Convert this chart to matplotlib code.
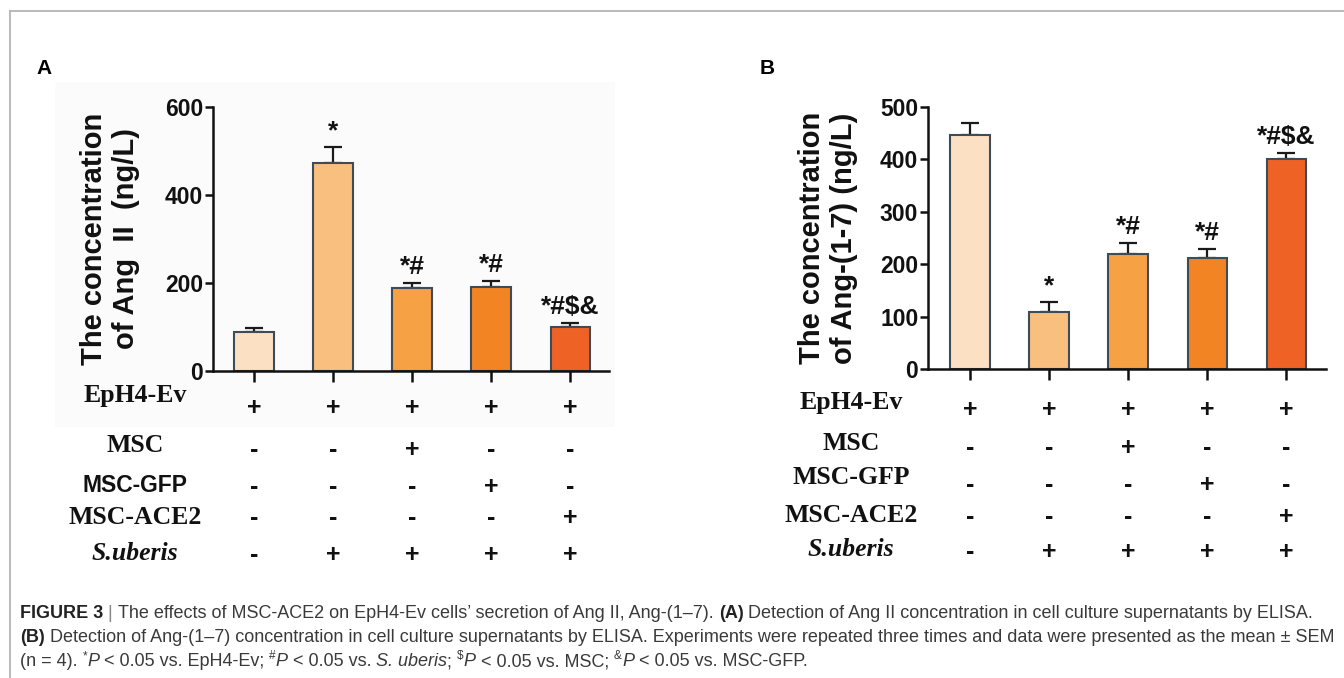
import matplotlib
matplotlib.use("Agg")
import matplotlib.pyplot as plt
import matplotlib.transforms as mtrans
from matplotlib import font_manager as fm
from matplotlib.patches import Rectangle
from matplotlib.lines import Line2D

# ---------------- data ----------------
groups = ["EpH4-Ev", "MSC", "MSC-GFP", "MSC-ACE2", "S.uberis"]
design = {
    "EpH4-Ev":  ["+", "+", "+", "+", "+"],
    "MSC":      ["-", "-", "+", "-", "-"],
    "MSC-GFP":  ["-", "-", "-", "+", "-"],
    "MSC-ACE2": ["-", "-", "-", "-", "+"],
    "S.uberis": ["-", "+", "+", "+", "+"],
}
angII_mean = [88, 473, 188, 192, 101]
angII_sem = [9, 36, 12, 12, 7]
ang17_mean = [446, 108, 220, 212, 400]
ang17_sem = [24, 19, 20, 17, 12]
sig_A = ["", "*", "*#", "*#", "*#$&"]
sig_B = ["", "*", "*#", "*#", "*#$&"]
yticks_A = [0, 200, 400, 600]
yticks_B = [0, 100, 200, 300, 400, 500]
bar_colors = ["#FCE0C4", "#F9BF7F", "#F7A145", "#F38424", "#EF6226"]

# ---------------- fonts ----------------
names = {f.name for f in fm.fontManager.ttflist}
NARROW = "Liberation Sans Narrow" if "Liberation Sans Narrow" in names else "Liberation Sans"
SANS = "Liberation Sans"
SERIF = "Liberation Serif"

W, H = 1344, 678
fig = plt.figure(figsize=(W / 100, H / 100), dpi=100)
fig.patch.set_facecolor("white")


def fx(px):
    return px / W


def fy(py):
    return 1 - py / H


# frame lines
fig.add_artist(Line2D([fx(9.5), 1.0], [fy(10.5), fy(10.5)], color="#b4b4b4", lw=1.3))
fig.add_artist(Line2D([fx(9.5), fx(9.5)], [fy(10.5), 0.0], color="#b4b4b4", lw=1.3))
# faint background of panel A image
fig.add_artist(Rectangle((fx(55), fy(427)), fx(615) - fx(55), fy(82) - fy(427),
                         transform=fig.transFigure, facecolor="#fbfbfb", edgecolor="none", zorder=0))


def make_panel(box, means, sems, sigs, yticks, ylim, xlim, ylabel, label_x, letter, letter_xy,
               row_label_x, row_label_y, row_sign_y, sans_rows):
    left, bottom, right, top = box
    ax = fig.add_axes([fx(left), fy(bottom), fx(right) - fx(left), fy(top) - fy(bottom)])
    ax.patch.set_alpha(0)
    x = list(range(len(means)))
    ax.errorbar(x, means, yerr=[[0] * len(sems), sems], fmt="none", ecolor="#1a1a1a",
                elinewidth=1.6, capsize=6.8, capthick=1.6, zorder=1)
    ax.bar(x, means, width=0.5, color=bar_colors, edgecolor="#3f4b57", linewidth=1.5, zorder=2)
    for xi, m, s, t in zip(x, means, sems, sigs):
        if t:
            ax.annotate(t, (xi, m + s), xytext=(0, 3), textcoords="offset points",
                        ha="center", va="bottom", fontsize=19, fontweight="bold",
                        family=NARROW, color="#111111")
    ax.set_xlim(*xlim)
    ax.set_ylim(*ylim)
    ax.set_yticks(yticks)
    ax.set_yticklabels([str(v) for v in yticks], fontsize=16.5, fontweight="bold", family=NARROW)
    ax.set_xticks(x)
    ax.set_xticklabels([""] * len(x))
    for sp in ["top", "right"]:
        ax.spines[sp].set_visible(False)
    for sp in ["left", "bottom"]:
        ax.spines[sp].set_linewidth(1.8)
        ax.spines[sp].set_color("#111111")
    ax.tick_params(axis="y", length=5.5, width=1.8, pad=1.5, colors="#111111")
    ax.tick_params(axis="x", length=8, width=1.8, colors="#111111")
    # y label
    fig.text(fx(label_x), fy((top + bottom) / 2), ylabel, rotation=90, ha="center", va="center",
             multialignment="center", fontsize=21, fontweight="bold", family=SANS,
             linespacing=1.2, color="#111111")
    # panel letter
    fig.text(fx(letter_xy[0]), fy(letter_xy[1]), letter, ha="left", va="center",
             fontsize=15, fontweight="bold", family=SANS)
    # design table
    blend = mtrans.blended_transform_factory(ax.transData, fig.transFigure)
    for name, ly, sy in zip(groups, row_label_y, row_sign_y):
        style = "italic" if name == "S.uberis" else "normal"
        fam = SANS if name in sans_rows else SERIF
        fs = 16.5 if name in sans_rows else 18.5
        fig.text(fx(row_label_x), fy(ly), name, ha="center", va="center", fontsize=fs,
                 fontweight="bold", fontstyle=style, family=fam, color="#111111")
        for xi, s in enumerate(design[name]):
            ax.text(xi, fy(sy), s, transform=blend, ha="center", va="center",
                    fontsize=18, fontweight="bold", family=SANS, color="#111111")
    return ax


make_panel((213, 371, 609, 107), angII_mean, angII_sem, sig_A, yticks_A, (0, 600), (-0.52, 4.49),
           "The concentration\nof Ang  II  (ng/L)", 110, "A", (36, 69),
           135, [395, 445, 485, 517, 553], [408, 450, 487, 518, 555], ["MSC-GFP"])
make_panel((928, 369, 1326, 107), ang17_mean, ang17_sem, sig_B, yticks_B, (0, 500), (-0.53, 4.5),
           "The concentration\nof Ang-(1-7) (ng/L)", 828, "B", (760, 69),
           851, [403, 443, 478, 515, 550], [410, 448, 485, 517, 552], [])

# ---------------- caption ----------------
CAP = "#3a3a3a"
renderer = fig.canvas.get_renderer()

line1 = [("FIGURE 3", "bold", "normal", False, "#222222"),
         (" | ", "normal", "normal", False, "#888888"),
         ("The effects of MSC-ACE2 on EpH4-Ev cells\u2019 secretion of Ang II, Ang-(1\u20137). ", "normal", "normal", False, CAP),
         ("(A)", "bold", "normal", False, "#222222"),
         (" Detection of Ang II concentration in cell culture supernatants by ELISA.", "normal", "normal", False, CAP)]
line2 = [("(B)", "bold", "normal", False, "#222222"),
         (" Detection of Ang-(1\u20137) concentration in cell culture supernatants by ELISA. Experiments were repeated three times and data were presented as the mean \u00b1 SEM", "normal", "normal", False, CAP)]
line3 = [("(n = 4). ", "normal", "normal", False, CAP),
         ("*", "normal", "normal", True, CAP), ("P", "normal", "italic", False, CAP),
         (" < 0.05 vs. EpH4-Ev; ", "normal", "normal", False, CAP),
         ("#", "normal", "normal", True, CAP), ("P", "normal", "italic", False, CAP),
         (" < 0.05 vs. ", "normal", "normal", False, CAP), ("S. uberis", "normal", "italic", False, CAP),
         ("; ", "normal", "normal", False, CAP),
         ("$", "normal", "normal", True, CAP), ("P", "normal", "italic", False, CAP),
         (" < 0.05 vs. MSC; ", "normal", "normal", False, CAP),
         ("&", "normal", "normal", True, CAP), ("P", "normal", "italic", False, CAP),
         (" < 0.05 vs. MSC-GFP.", "normal", "normal", False, CAP)]


def draw_line(segs, x0, y, fs, measure_only=False):
    x = x0
    arts = []
    for text, wt, st, sup, col in segs:
        size = fs * 0.65 if sup else fs
        yy = y - fs * 0.45 if sup else y
        t = fig.text(fx(x), fy(yy), text, fontsize=size, fontweight=wt, fontstyle=st,
                     family=NARROW, color=col, ha="left", va="center")
        bb = t.get_window_extent(renderer)
        x += bb.width
        arts.append(t)
    if measure_only:
        for a in arts:
            a.remove()
    return x - x0


base = 10.0
w1 = draw_line(line1, 20, 613, base, measure_only=True)
w2 = draw_line(line2, 20, 638, base, measure_only=True)
cap_fs = min(base * (1307 / w1), base * (1318 / w2))
draw_line(line1, 20, 613, cap_fs)
draw_line(line2, 20, 638, cap_fs)
draw_line(line3, 20, 662, cap_fs)

fig.savefig("out.png", dpi=100, facecolor="white")
